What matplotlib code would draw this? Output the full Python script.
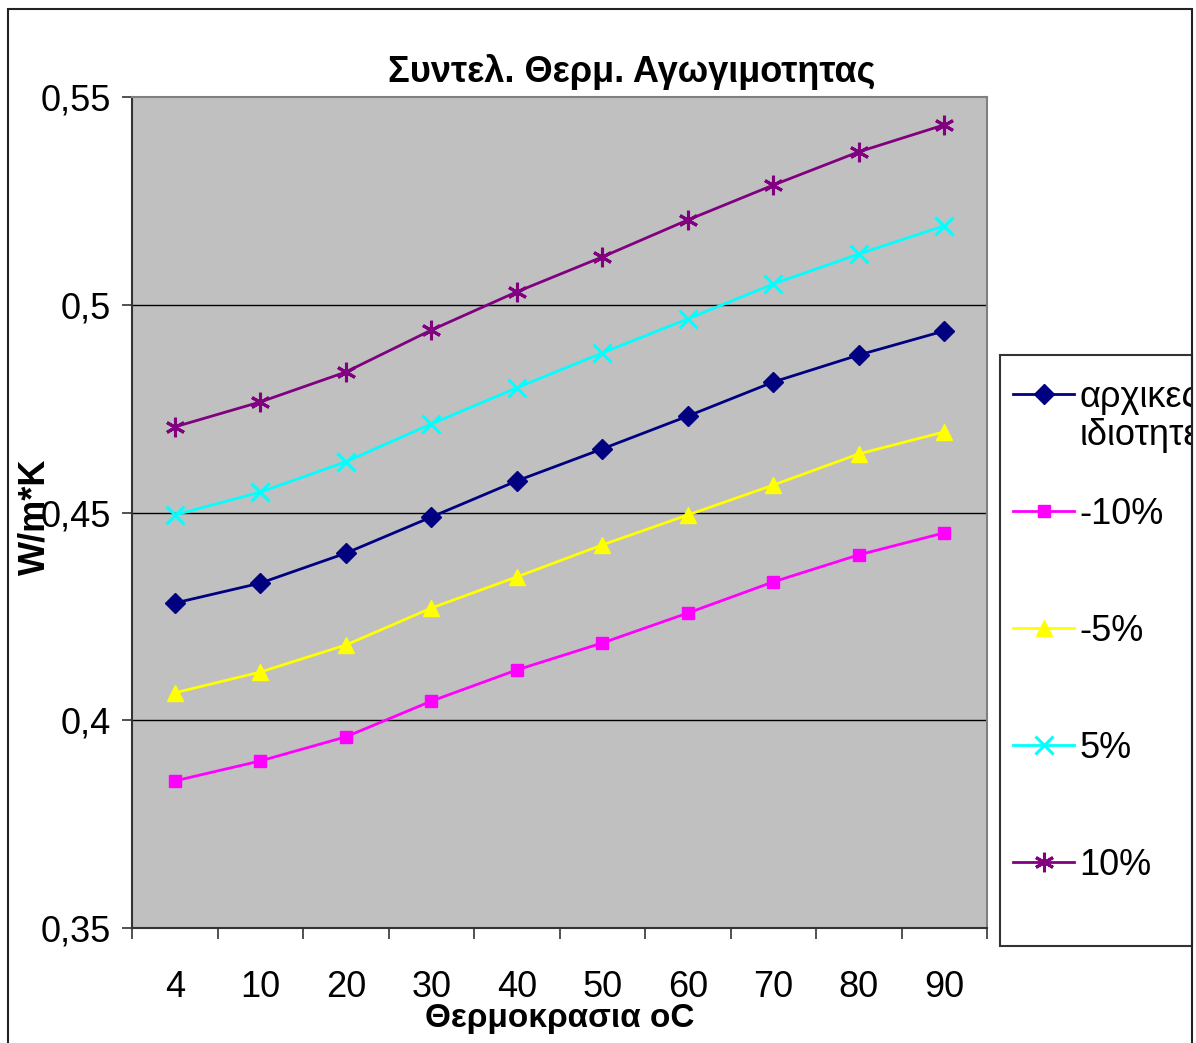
import numpy as np
import matplotlib.pyplot as plt
from matplotlib.ticker import FixedLocator, FuncFormatter
from matplotlib.patches import Rectangle
from matplotlib.transforms import Bbox, TransformedBbox

plt.rcParams['font.family'] = ['Liberation Sans', 'DejaVu Sans']

# Data
temps = ['4', '10', '20', '30', '40', '50', '60', '70', '80', '90']
base = [0.4282, 0.4330, 0.4402, 0.4489, 0.4576, 0.4653, 0.4732, 0.4814, 0.4879, 0.4937]
minus10 = [0.3854, 0.3902, 0.3960, 0.4046, 0.4121, 0.4186, 0.4258, 0.4333, 0.4398, 0.4451]
minus5 = [0.4066, 0.4116, 0.4181, 0.4270, 0.4345, 0.4422, 0.4494, 0.4566, 0.4641, 0.4694]
plus5 = [0.4494, 0.4549, 0.4622, 0.4713, 0.4800, 0.4884, 0.4966, 0.5050, 0.5122, 0.5190]
plus10 = [0.4706, 0.4766, 0.4838, 0.4939, 0.5031, 0.5115, 0.5204, 0.5288, 0.5368, 0.5433]

labels = ['αρχικες', '-10%', '-5%', '5%', '10%']
label_cont = 'ιδιοτητες'  # second line of the first legend label
colors = ['#000080', '#FF00FF', '#FFFF00', '#00FFFF', '#800080']
markers = ['D', 's', '^', 'x', (6, 2, 0)]
msizes = [10, 9, 12, 13, 14]
series = [base, minus10, minus5, plus5, plus10]

W, H = 1196, 1043
fig = plt.figure(figsize=(W / 100, H / 100), dpi=100)

# legend box (drawn separately, it is taller than the entries need)
fig.patches.append(Rectangle((1000 / W, 1 - 946 / H), 192 / W, 591 / H,
                             transform=fig.transFigure, facecolor='white',
                             edgecolor='#333333', linewidth=1.5, zorder=0))
# outer chart frame
fig.patches.append(Rectangle((8 / W, -0.01), 1184 / W, 1 - 9 / H + 0.01,
                             transform=fig.transFigure, fill=False,
                             edgecolor='#222222', linewidth=1.5, zorder=5))

ax = fig.add_axes([132 / W, 1 - 928 / H, 855 / W, 831 / H])
ax.set_facecolor('#C0C0C0')

x = np.arange(len(temps))
handles = []
for vals, lab, c, m, ms in zip(series, labels, colors, markers, msizes):
    h, = ax.plot(x, vals, color=c, marker=m, markersize=ms, linewidth=2.0,
                 markeredgewidth=2.2 if m in ('x', (6, 2, 0)) else 1,
                 markeredgecolor=c, label=lab, zorder=3)
    handles.append(h)

ax.set_xlim(-0.5, len(temps) - 0.5)
ax.set_ylim(0.35, 0.55)

# category axis: ticks between categories, labels at centers
ax.xaxis.set_major_locator(FixedLocator(np.arange(-0.5, len(temps), 1.0)))
ax.xaxis.set_major_formatter(FuncFormatter(lambda v, p: ''))
ax.xaxis.set_minor_locator(FixedLocator(x))
ax.set_xticklabels(temps, minor=True)
ax.tick_params(axis='x', which='major', direction='out', length=8, width=1.2, color='#333333')
ax.tick_params(axis='x', which='minor', length=0, pad=30, labelsize=26)

ax.set_yticks([0.35, 0.4, 0.45, 0.5, 0.55])
ax.yaxis.set_major_formatter(FuncFormatter(lambda v, p: ('%g' % v).replace('.', ',')))
ax.tick_params(axis='y', direction='out', length=7, width=1.2, pad=8, labelsize=26, color='#333333')

for yv in [0.4, 0.45, 0.5]:
    ax.axhline(yv, color='black', linewidth=1.0, zorder=1)

for side in ['left', 'bottom']:
    ax.spines[side].set_color('#333333')
    ax.spines[side].set_linewidth(1.5)
for side in ['top', 'right']:
    ax.spines[side].set_color('#808080')
    ax.spines[side].set_linewidth(1.5)

fig.text(632 / W, 1 - 72 / H, 'Συντελ. Θερμ. Αγωγιμοτητας', ha='center', va='center',
         fontsize=26, fontweight='bold')
fig.text(560 / W, 1 - 1018 / H, 'Θερμοκρασια oC', ha='center', va='center',
         fontsize=24, fontweight='bold')
fig.text(35 / W, 1 - 517 / H, 'W/m*K', ha='center', va='center', rotation=90,
         fontsize=26, fontweight='bold')

leg = fig.legend(handles=handles, loc='upper left',
                 bbox_to_anchor=(993 / W, 1 - 360 / H), fontsize=26,
                 frameon=False, handlelength=1.7, handletextpad=0.15,
                 labelspacing=2.27, borderpad=0.55, borderaxespad=0)

fig.canvas.draw()
bb = leg.get_texts()[0].get_window_extent()
cont = fig.text(bb.x0 / W, (bb.y0 - 38) / H, label_cont, ha='left', va='bottom', fontsize=26)

# texts are cut at the chart frame, like in the original
clip = TransformedBbox(Bbox([[0, 0], [1191 / W, 1]]), fig.transFigure)
for t in list(leg.get_texts()) + [cont]:
    t.set_clip_box(clip)
    t.set_clip_on(True)

fig.savefig('out.png', dpi=100)
